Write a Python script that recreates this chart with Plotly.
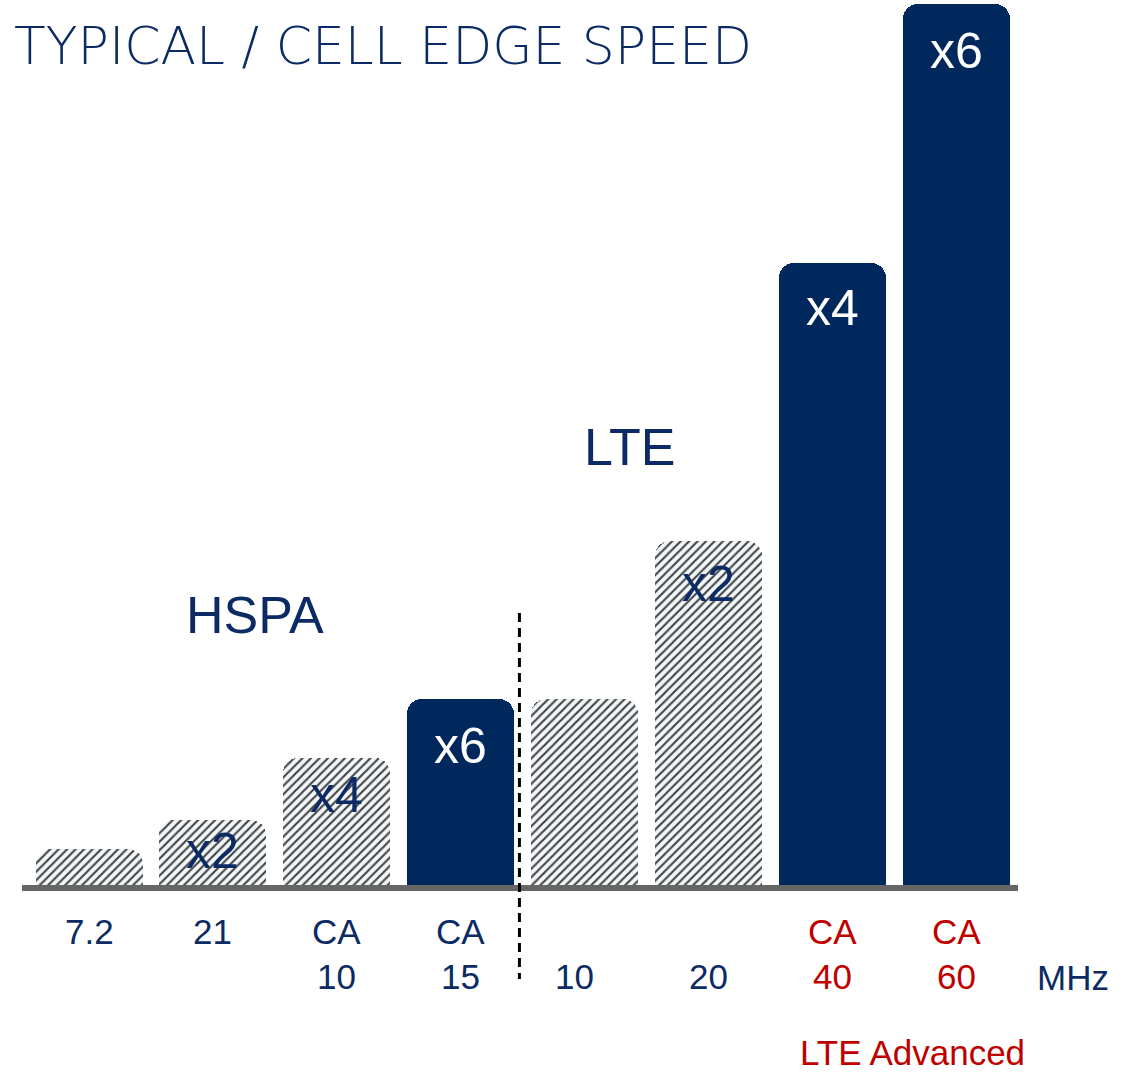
import plotly.graph_objects as go

# Peak / cell-edge throughput steps for HSPA, LTE and LTE Advanced (relative units)
categories = ["7.2", "21", "CA 10", "CA 15", "10", "20", "CA 40", "CA 60"]
relative_speed = [3.8, 6.7, 12.9, 18.8, 18.8, 34.6, 62.4, 88.3]
multipliers = ["", "x2", "x4", "x6", "", "x2", "x4", "x6"]
solid_bar = [False, False, False, True, False, False, True, True]
label_top = ["7.2", "21", "CA", "CA", "", "", "CA", "CA"]
label_bottom = ["", "", "10", "15", "10", "20", "40", "60"]
lte_advanced = [False, False, False, False, False, False, True, True]

NAVY = "#00285c"
TEXT_NAVY = "#0c2b64"
RED = "#c00000"
FONT = "Arial, Liberation Sans, sans-serif"
HATCH_FG = "#2c3b5e"
HATCH_BG = "#f2f7fa"

x_idx = list(range(len(categories)))

fig = go.Figure()
fig.add_trace(go.Bar(
    x=x_idx,
    y=relative_speed,
    width=0.864,
    marker=dict(
        color=[NAVY if s else HATCH_BG for s in solid_bar],
        line=dict(width=0),
        cornerradius=15,
        pattern=dict(
            shape=["" if s else "/" for s in solid_bar],
            fgcolor=HATCH_FG,
            bgcolor=HATCH_BG,
            fgopacity=1,
            size=6,
            solidity=0.36,
        ),
    ),
    hoverinfo="skip",
    showlegend=False,
))

annotations = []

# multiplier labels inside the bars
label_drop = [0, 31, 37, 47, 0, 43, 45, 47]
for i, (m, v, s) in enumerate(zip(multipliers, relative_speed, solid_bar)):
    if not m:
        continue
    annotations.append(dict(
        x=i, y=v, xref="x", yref="y", text=m, showarrow=False,
        xanchor="center", yanchor="middle", yshift=-label_drop[i],
        font=dict(family=FONT, size=50, color="white" if s else TEXT_NAVY),
    ))

# category labels under the baseline
label_nudge = [0, 0, 0, 0, -10, 0, 0, 0]
for i in x_idx:
    col = RED if lte_advanced[i] else TEXT_NAVY
    if label_top[i]:
        annotations.append(dict(
            x=i, y=-4.4, xref="x", yref="y", text=label_top[i], showarrow=False,
            xanchor="center", xshift=label_nudge[i],
            font=dict(family=FONT, size=35, color=col),
        ))
    if label_bottom[i]:
        annotations.append(dict(
            x=i, y=-8.9, xref="x", yref="y", text=label_bottom[i], showarrow=False,
            xanchor="center", xshift=label_nudge[i],
            font=dict(family=FONT, size=35, color=col),
        ))

annotations += [
    dict(x=1073 / 1138, y=-9.0, xref="paper", yref="y", text="MHz", showarrow=False,
         xanchor="center", font=dict(family=FONT, size=35, color=TEXT_NAVY)),
    dict(x=912 / 1138, y=-16.5, xref="paper", yref="y", text="LTE Advanced", showarrow=False,
         xanchor="center", font=dict(family=FONT, size=35, color=RED)),
    dict(x=1.34, y=27.2, xref="x", yref="y", text="HSPA", showarrow=False,
         xanchor="center", font=dict(family=FONT, size=52, color=TEXT_NAVY)),
    dict(x=4.368, y=44.0, xref="x", yref="y", text="LTE", showarrow=False,
         xanchor="center", font=dict(family=FONT, size=52, color=TEXT_NAVY)),
    dict(x=12 / 1138, y=1 - 46 / 1072, xref="paper", yref="paper",
         text="TYPICAL / CELL EDGE SPEED", showarrow=False,
         xanchor="left", yanchor="middle",
         font=dict(family="DejaVu Sans, sans-serif", size=52, color=TEXT_NAVY, weight=200)),
]

shapes = [
    # baseline
    dict(type="line", xref="paper", yref="y", x0=22 / 1138, x1=1018 / 1138,
         y0=-0.1, y1=-0.1, line=dict(color="#666666", width=6), layer="above"),
    # HSPA / LTE divider
    dict(type="line", xref="x", yref="y", x0=3.475, x1=3.475, y0=27.4, y1=-9.2,
         line=dict(color="black", width=3, dash="9px,6px"), layer="above"),
]

fig.update_layout(
    width=1138, height=1072,
    margin=dict(l=0, r=0, t=0, b=0),
    paper_bgcolor="white", plot_bgcolor="white",
    xaxis=dict(range=[-0.7186, 8.469], visible=False, fixedrange=True),
    yaxis=dict(range=[-18.5, 88.7], visible=False, fixedrange=True),
    annotations=annotations,
    shapes=shapes,
    bargap=0,
)

fig.write_html("out.html")
